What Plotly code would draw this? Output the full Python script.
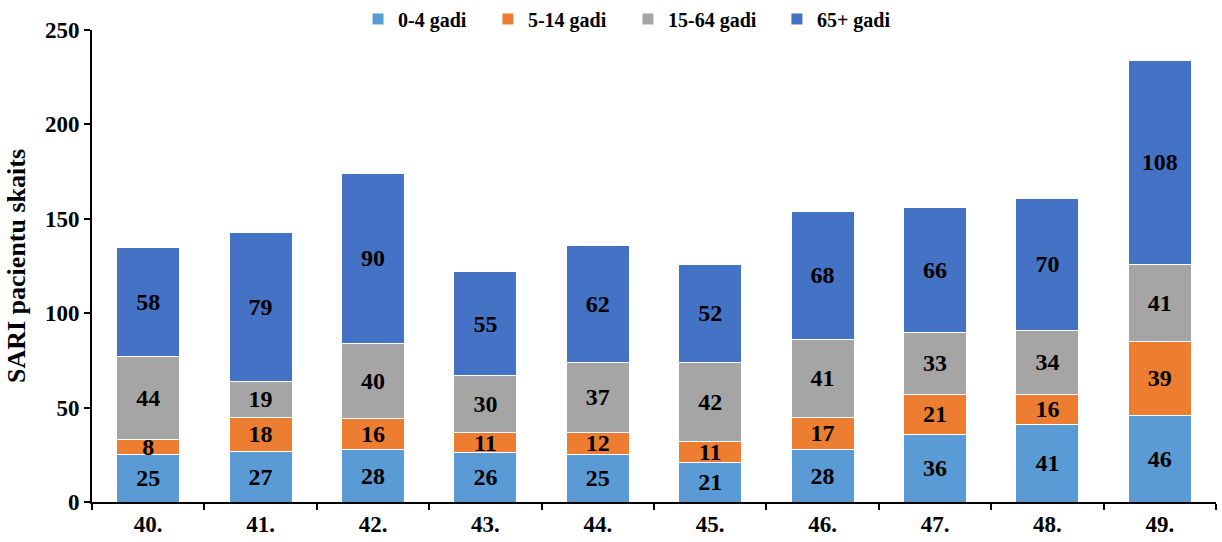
import plotly.graph_objects as go

weeks = ["40.", "41.", "42.", "43.", "44.", "45.", "46.", "47.", "48.", "49."]
age_0_4 = [25, 27, 28, 26, 25, 21, 28, 36, 41, 46]
age_5_14 = [8, 18, 16, 11, 12, 11, 17, 21, 16, 39]
age_15_64 = [44, 19, 40, 30, 37, 42, 41, 33, 34, 41]
age_65 = [58, 79, 90, 55, 62, 52, 68, 66, 70, 108]

series = [
    ("0-4 gadi", age_0_4, "#5B9BD5"),
    ("5-14 gadi", age_5_14, "#ED7D31"),
    ("15-64 gadi", age_15_64, "#A5A5A5"),
    ("65+ gadi", age_65, "#4472C4"),
]

FONT = "Liberation Serif, Times New Roman, serif"

# each legend entry gets its own legend box so the row can be spaced freely
legend_ids = ["legend", "legend2", "legend3", "legend4"]
legend_x = [0.293, 0.3993, 0.5139, 0.6358]

fig = go.Figure()
for (name, vals, color), lid in zip(series, legend_ids):
    fig.add_trace(go.Bar(
        name=name,
        x=weeks,
        y=vals,
        legend=lid,
        showlegend=True,
        text=[str(v) for v in vals],
        textposition="inside",
        insidetextanchor="middle",
        constraintext="none",
        textangle=0,
        textfont=dict(family=FONT, size=24, color="black", weight="bold"),
        marker=dict(color=color, line=dict(color="white", width=1)),
    ))

legend_style = dict(
    visible=True,
    orientation="h",
    xref="container",
    xanchor="left",
    yref="container",
    y=0.965,
    yanchor="middle",
    font=dict(family=FONT, size=20, color="black", weight="bold"),
    itemwidth=30,
    bgcolor="rgba(0,0,0,0)",
)

fig.update_layout(
    showlegend=True,
    barmode="stack",
    bargap=0.44,
    width=1222,
    height=542,
    margin=dict(l=92, r=6, t=30, b=40, autoexpand=False),
    plot_bgcolor="white",
    paper_bgcolor="white",
    font=dict(family=FONT, size=22, color="black", weight="bold"),
    xaxis=dict(
        type="category",
        tickson="boundaries",
        ticks="outside",
        ticklen=6,
        tickwidth=2,
        tickcolor="black",
        showline=True,
        linecolor="black",
        linewidth=2,
        showgrid=False,
        tickfont=dict(family=FONT, size=23, color="black", weight="bold"),
    ),
    yaxis=dict(
        range=[0, 250],
        tick0=0,
        dtick=50,
        ticks="outside",
        ticklen=6,
        tickwidth=2,
        tickcolor="black",
        showline=True,
        linecolor="black",
        linewidth=2,
        showgrid=False,
        zeroline=False,
        tickfont=dict(family=FONT, size=23, color="black", weight="bold"),
        title=dict(text="SARI pacientu skaits", standoff=12,
                   font=dict(family=FONT, size=26, color="black", weight="bold")),
    ),
)

for lid, lx in zip(legend_ids, legend_x):
    fig.update_layout({lid: dict(legend_style, x=lx)})

fig.write_html("out.html")
